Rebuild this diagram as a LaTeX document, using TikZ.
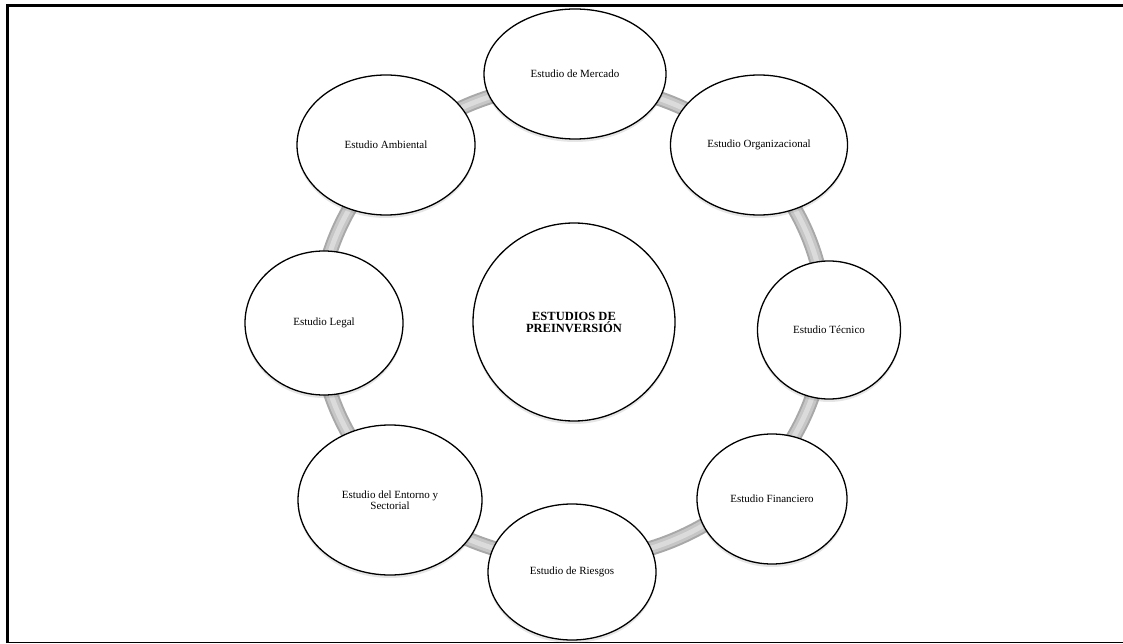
\documentclass[tikz,border=0pt]{standalone}
\usepackage{fontspec}
\setmainfont{Liberation Serif}
\usetikzlibrary{shapes.geometric,shadows}
\begin{document}
\begin{tikzpicture}[x=1pt,y=1pt,
  bubble/.style={ellipse, draw=black, line width=1.3pt, fill=white,
    inner sep=0pt, align=center, font=\fontsize{11}{11}\selectfont,
    drop shadow={opacity=0.2, shadow xshift=0pt, shadow yshift=-3pt}}]
\useasboundingbox (0,0) rectangle (1123,-644);
% frame
\draw[line width=3pt] (7.5,-643) -- (7.5,-5.5) -- (1123,-5.5);
\draw[line width=1.2pt] (7.5,-642.4) -- (1123,-642.4);
% connecting ring, shaded like a tube
\coordinate (ringc) at (572,-322);
\draw[gray!68, line width=15pt] (ringc) ellipse [x radius=253, y radius=238];
\draw[gray!45, line width=11pt] (ringc) ellipse [x radius=253, y radius=238];
\draw[gray!28, line width=5pt] (ringc) ellipse [x radius=253, y radius=238];
% centre
\node[bubble, minimum width=202pt, minimum height=198pt,
  font=\fontsize{12.5}{12}\selectfont\bfseries] (centro) at (574,-322)
  {ESTUDIOS DE\\PREINVERSIÓN};
% surrounding studies
\node[bubble, minimum width=182pt, minimum height=130pt] (mercado) at (575,-74) {Estudio de Mercado};
\node[bubble, minimum width=177pt, minimum height=140pt] (organizacional) at (759,-145) {Estudio Organizacional};
\node[bubble, minimum width=143pt, minimum height=138pt] (tecnico) at (829,-330) {Estudio Técnico};
\node[bubble, minimum width=150pt, minimum height=130pt] (financiero) at (772,-499) {Estudio Financiero};
\node[bubble, minimum width=168pt, minimum height=136pt] (riesgos) at (572,-572) {Estudio de Riesgos};
\node[bubble, minimum width=184pt, minimum height=150pt] (entorno) at (390,-500) {Estudio del Entorno y\\Sectorial};
\node[bubble, minimum width=158pt, minimum height=144pt] (legal) at (324,-323) {Estudio Legal};
\node[bubble, minimum width=178pt, minimum height=140pt] (ambiental) at (386,-145) {Estudio Ambiental};
\end{tikzpicture}
\end{document}
